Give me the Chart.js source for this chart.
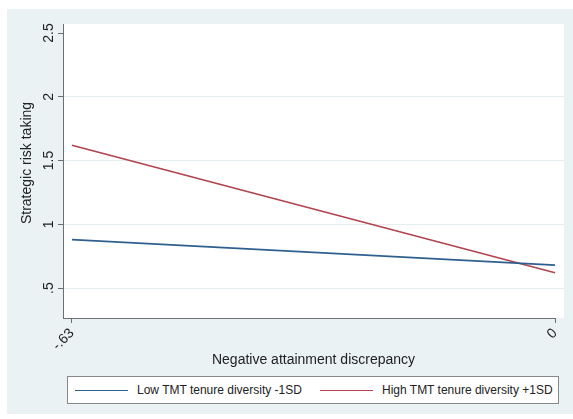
<!DOCTYPE html>
<html>
<head>
<meta charset="utf-8">
<script src="https://cdn.jsdelivr.net/npm/chart.js@4/dist/chart.umd.min.js"></script>
<style>
  html, body { margin: 0; padding: 0; background: #fff; }
  body { width: 573px; height: 419px; position: relative; overflow: hidden; font-family: "Liberation Sans", Arial, sans-serif; }
  #frame { position: absolute; left: 7px; top: 9px; width: 566px; height: 405px; background: #eaf2f3; }
  #wrap { position: absolute; left: 0; top: 0; width: 573px; height: 419px; }
  #legend { position: absolute; left: 67px; top: 376px; width: 490px; height: 26px; background: #fff;
            border: 1px solid #85898c; display: flex; }
  .item { width: 50%; display: flex; align-items: center; box-sizing: border-box; padding-left: 7px; }
  .item .swatch { width: 53px; height: 0; border-top: 1.6px solid; margin-right: 9px; }
  .item span { font-size: 12px; color: #222; }
</style>
</head>
<body>
<div id="frame"></div>
<div id="wrap"><canvas id="chart"></canvas></div>
<div id="legend"></div>
<script>
// values
const xValues = [-0.63, 0];
const xTicks = [-0.63, 0];
const yTicks = [0.5, 1, 1.5, 2, 2.5];
const lowDiversity = [0.88, 0.68];
const highDiversity = [1.62, 0.62];
const seriesNames = ["Low TMT tenure diversity -1SD", "High TMT tenure diversity +1SD"];
const seriesColors = ["#2f5f8f", "#b0434d"];

const fmt = (v) => v === 0 ? "0" : String(v).replace(/^(-?)0\./, "$1.");
const FONT = "Liberation Sans";

// plot region fill, axis line, rotated y labels and y title
const stataLook = {
  id: "stataLook",
  beforeDraw(chart) {
    const { ctx, chartArea: a } = chart;
    ctx.save();
    ctx.fillStyle = "#fff";
    ctx.fillRect(a.left, a.top, a.right - a.left, a.bottom - a.top);
    ctx.restore();
  },
  afterDraw(chart) {
    const { ctx, chartArea: a, scales } = chart;
    const x = scales.x, y = scales.y;
    ctx.save();
    ctx.strokeStyle = "#6b6f72";
    ctx.lineWidth = 1;
    ctx.beginPath();
    ctx.moveTo(a.left, a.bottom + 0.5);
    ctx.lineTo(x.getPixelForValue(xTicks[xTicks.length - 1]) + 0.5, a.bottom + 0.5);
    ctx.stroke();
    ctx.fillStyle = "#222";
    ctx.font = `14px "${FONT}"`;
    ctx.textAlign = "center";
    ctx.textBaseline = "middle";
    yTicks.forEach((v) => {
      ctx.save();
      ctx.translate(49, y.getPixelForValue(v));
      ctx.rotate(-Math.PI / 2);
      ctx.fillText(fmt(v), 0, 0);
      ctx.restore();
    });
    ctx.save();
    ctx.translate(27, 163);
    ctx.rotate(-Math.PI / 2);
    ctx.fillText("Strategic risk taking", 0, 0);
    ctx.restore();
    ctx.restore();
  },
};

const chart = new Chart(document.getElementById("chart"), {
  type: "line",
  data: {
    labels: xValues,
    datasets: [lowDiversity, highDiversity].map((vals, i) => ({
      label: seriesNames[i],
      data: vals.map((v, j) => ({ x: xValues[j], y: v })),
      borderColor: seriesColors[i],
      backgroundColor: seriesColors[i],
      borderWidth: 1.6,
      pointRadius: 0,
      tension: 0,
    })),
  },
  options: {
    responsive: true,
    maintainAspectRatio: false,
    animation: false,
    layout: { padding: { left: 7, right: 9, top: 24, bottom: 50 } },
    plugins: { legend: { display: false }, tooltip: { enabled: false } },
    scales: {
      x: {
        type: "linear",
        min: -0.6417,
        max: 0.0117,
        afterBuildTicks: (s) => { s.ticks = xTicks.map((value) => ({ value })); },
        afterFit: (s) => { s.height = 51; },
        border: { display: false },
        grid: { drawOnChartArea: false, tickLength: 5, tickColor: "#6b6f72" },
        ticks: {
          minRotation: 45, maxRotation: 45, autoSkip: false, padding: 2,
          color: "#222", font: { family: FONT, size: 14 },
          callback: (v) => fmt(v),
        },
        title: {
          display: true, text: "Negative attainment discrepancy",
          color: "#222", font: { family: FONT, size: 14 }, padding: { top: 0, bottom: 0 },
        },
      },
      y: {
        min: 0.265,
        max: 2.571,
        afterBuildTicks: (s) => { s.ticks = yTicks.map((value) => ({ value })); },
        afterFit: (s) => { s.width = 56; },
        border: { display: true, color: "#6b6f72", width: 1 },
        grid: {
          color: (c) => c.tick && c.tick.value === 2.5 ? "rgba(0,0,0,0)" : "#e4edf0",
          tickColor: "#6b6f72",
          tickLength: 5,
        },
        ticks: { display: false },
      },
    },
  },
  plugins: [stataLook],
});

// html legend built from the chart's datasets
document.getElementById("legend").innerHTML = chart.data.datasets.map((d) =>
  `<div class="item"><div class="swatch" style="border-color:${d.borderColor}"></div><span>${d.label}</span></div>`
).join("");
</script>
</body>
</html>
